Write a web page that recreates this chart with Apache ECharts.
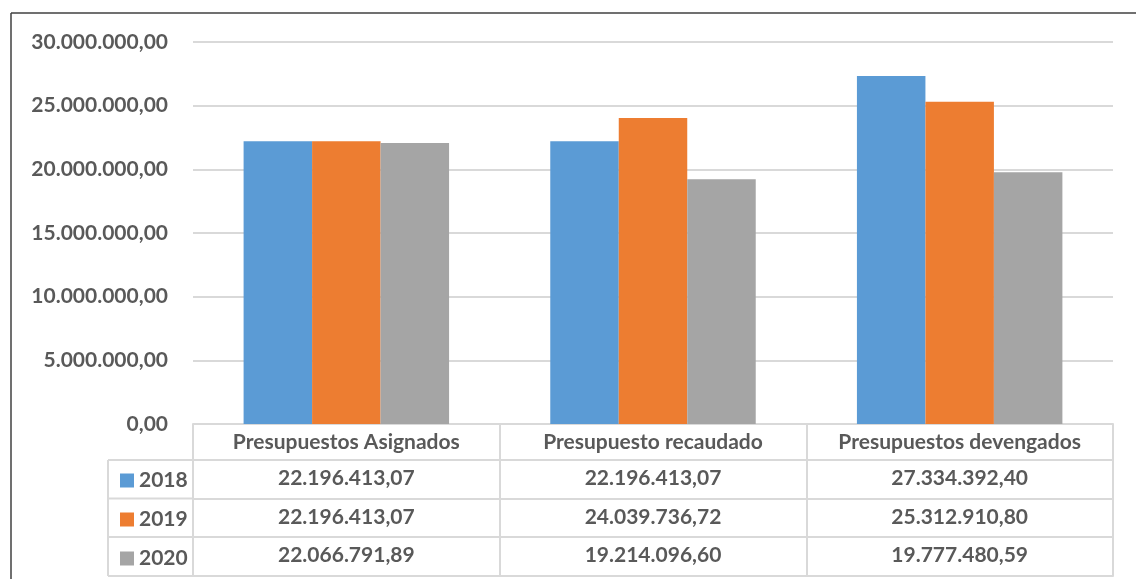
<!DOCTYPE html>
<html>
<head>
<meta charset="utf-8">
<script src="https://cdn.jsdelivr.net/npm/echarts@6/dist/echarts.min.js"></script>
<style>
  html, body { margin: 0; padding: 0; background: #fff; }
  #chart { width: 1136px; height: 579px; }
</style>
</head>
<body>
<div id="chart"></div>
<script>
// datos del gráfico
const categorias = ['Presupuestos Asignados', 'Presupuesto recaudado', 'Presupuestos devengados']
const anios = ['2018', '2019', '2020']
const valores2018 = [22196413.07, 22196413.07, 27334392.40]
const valores2019 = [22196413.07, 24039736.72, 25312910.80]
const valores2020 = [22066791.89, 19214096.60, 19777480.59]
const colores = ['#5b9bd5', '#ed7d31', '#a5a5a5']

const fuente = 'Lato'
const gris = '#595959'
const linea = '#d9d9d9'
const tam = 21

// formato 22.196.413,07
function formato(v) {
  const partes = v.toFixed(2).split('.')
  const entero = partes[0].replace(/\B(?=(\d{3})+(?!\d))/g, '.')
  return entero + ',' + partes[1]
}

const chart = echarts.init(document.getElementById('chart'))

const grid = { left: 193, right: 23, top: 42, bottom: 155 }
const filas = [36, 74.5, 113, 152]
const series = [valores2018, valores2019, valores2020]

function ejeFila(offset, datos) {
  return {
    type: 'category',
    data: categorias,
    position: 'bottom',
    offset: offset,
    axisLine: { show: true, lineStyle: { color: linea, width: 2 } },
    axisTick: { show: false },
    axisLabel: {
      show: !!datos,
      interval: 0,
      margin: 8,
      color: gris,
      fontFamily: fuente,
      fontWeight: 'bold',
      fontSize: tam,
      formatter: (v, i) => datos ? formato(datos[i]) : ''
    }
  }
}

const option = {
  animation: false,
  grid: grid,
  legend: {
    orient: 'vertical',
    left: 115,
    top: 465,
    itemWidth: 14,
    itemHeight: 14,
    itemGap: 18,
    icon: 'rect',
    textStyle: { color: gris, fontFamily: fuente, fontWeight: 'bold', fontSize: tam },
    data: anios
  },
  xAxis: [
    {
      type: 'category',
      data: categorias,
      axisLine: { show: true, lineStyle: { color: linea, width: 2 } },
      axisTick: { show: true, length: 152, lineStyle: { color: linea, width: 2 } },
      axisLabel: {
        interval: 0,
        margin: 8,
        color: gris,
        fontFamily: fuente,
        fontWeight: 'bold',
        fontSize: tam
      }
    },
    ejeFila(filas[0], valores2018),
    ejeFila(filas[1], valores2019),
    ejeFila(filas[2], valores2020),
    ejeFila(filas[3], null)
  ],
  yAxis: {
    type: 'value',
    min: 0,
    max: 30000000,
    interval: 5000000,
    axisLine: { show: false },
    axisTick: { show: false },
    splitLine: { lineStyle: { color: linea, width: 2 } },
    axisLabel: {
      margin: 25,
      color: gris,
      fontFamily: fuente,
      fontWeight: 'bold',
      fontSize: tam,
      formatter: v => formato(v)
    }
  },
  series: anios.map((a, i) => ({
    name: a,
    type: 'bar',
    data: series[i],
    barGap: '0%',
    barCategoryGap: '33%',
    itemStyle: { color: colores[i] }
  })),
  graphic: [
    // columna de la leyenda
    { type: 'line', shape: { x1: 108, y1: 460, x2: 108, y2: 576 }, style: { stroke: linea, lineWidth: 2 } },
    { type: 'line', shape: { x1: 108, y1: 460, x2: 193, y2: 460 }, style: { stroke: linea, lineWidth: 2 } },
    { type: 'line', shape: { x1: 108, y1: 498.5, x2: 193, y2: 498.5 }, style: { stroke: linea, lineWidth: 2 } },
    { type: 'line', shape: { x1: 108, y1: 537, x2: 193, y2: 537 }, style: { stroke: linea, lineWidth: 2 } },
    { type: 'line', shape: { x1: 108, y1: 576, x2: 193, y2: 576 }, style: { stroke: linea, lineWidth: 2 } },
    // borde exterior
    { type: 'line', shape: { x1: 11, y1: 13, x2: 1136, y2: 13 }, style: { stroke: '#404040', lineWidth: 1.5 } },
    { type: 'line', shape: { x1: 11, y1: 13, x2: 11, y2: 579 }, style: { stroke: '#404040', lineWidth: 1.5 } }
  ]
}

chart.setOption(option)
</script>
</body>
</html>
